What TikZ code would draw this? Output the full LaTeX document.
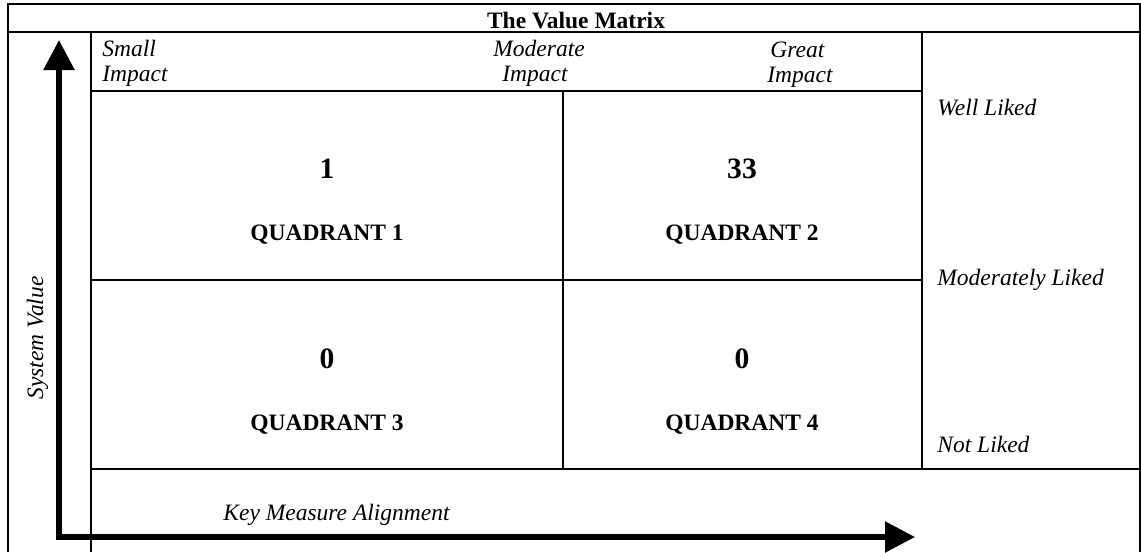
\documentclass[tikz,border=0pt]{standalone}
\usepackage{fontspec}
\setmainfont{Liberation Serif}
\usetikzlibrary{arrows.meta}

\begin{document}
\begin{tikzpicture}[x=0.5pt,y=-0.5pt,
  every node/.style={inner sep=0pt,font=\fontsize{11.75}{14}\selectfont},
  lbl/.style={anchor=base west,font=\fontsize{11.75}{14}\selectfont\itshape},
  num/.style={anchor=base,font=\fontsize{14.8}{17}\selectfont\bfseries},
  quad/.style={anchor=base,font=\fontsize{11.75}{14}\selectfont\bfseries},
  grid/.style={line width=1.25pt}]
\useasboundingbox (0,0) rectangle (1141,552);
% table lines
\draw[grid] (8,552)--(8,4)--(1140,4)--(1140,552);
\draw[grid] (8,32)--(1140,32);
\draw[grid] (91,32)--(91,552);
\draw[grid] (91,91)--(922,91);
\draw[grid] (922,32)--(922,469);
\draw[grid] (563,91)--(563,469);
\draw[grid] (91,280)--(922,280);
\draw[grid] (91,469)--(1140,469);
% texts
\node[quad] (title) at (576,28) {The Value Matrix};
\node[lbl] (small1) at (102,56) {Small};
\node[lbl] (small2) at (102,81) {Impact};
\node[lbl] (mod1) at (493,56) {Moderate};
\node[lbl] (mod2) at (502,81) {Impact};
\node[lbl] (great1) at (770,57) {Great};
\node[lbl] (great2) at (767,82) {Impact};
\node[num] (n1) at (327,178) {1};
\node[quad] (q1) at (327,240) {QUADRANT 1};
\node[num] (n2) at (742,178) {33};
\node[quad] (q2) at (742,240) {QUADRANT 2};
\node[num] (n3) at (327,368) {0};
\node[quad] (q3) at (327,430) {QUADRANT 3};
\node[num] (n4) at (742,368) {0};
\node[quad] (q4) at (742,430) {QUADRANT 4};
\node[lbl] (well) at (937,115) {Well Liked};
\node[lbl] (modl) at (937,285) {Moderately Liked};
\node[lbl] (notl) at (937,452) {Not Liked};
\node[lbl,anchor=base,rotate=90] (sysv) at (43,338) {System Value};
\node[lbl] (keym) at (223,520) {Key Measure Alignment};
% axes
\coordinate (vtip) at (59,40);
\coordinate (htip) at (915,537);
\draw[line width=2.75pt,{Triangle[length=15pt,width=15pt]}-{Triangle[length=15pt,width=15pt]}] (vtip) |- (htip);
\end{tikzpicture}
\end{document}
